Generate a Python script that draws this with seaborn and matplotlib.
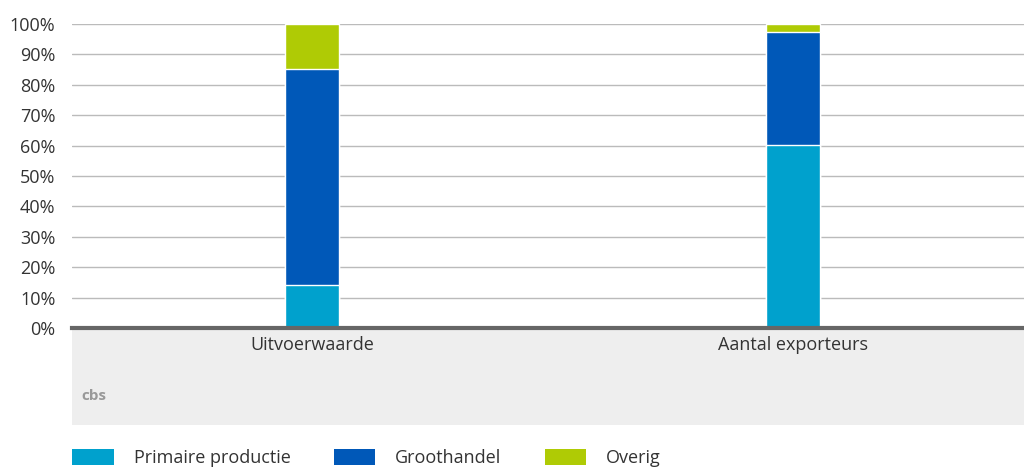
import pandas as pd
import matplotlib.pyplot as plt
import seaborn as sns
from matplotlib.patches import Rectangle, Patch
from matplotlib.ticker import PercentFormatter

categories = ["Uitvoerwaarde", "Aantal exporteurs"]
series = ["Primaire productie", "Groothandel", "Overig"]
primaire = [14.0, 60.3]
groothandel = [71.3, 37.2]
overig = [14.7, 2.5]
colors = ["#00a1cd", "#0058b8", "#afcb05"]

df = pd.DataFrame({"categorie": categories,
                   "Primaire productie": primaire,
                   "Groothandel": groothandel,
                   "Overig": overig})
# cumulative heights for the stacked bars
cum = df[series].cumsum(axis=1)

sns.set_style("white")
plt.rcParams["font.family"] = ["Open Sans", "DejaVu Sans"]

fig = plt.figure(figsize=(10.24, 4.69), dpi=100)

# grey panel under the axis
fig.patches.append(Rectangle((72 / 1024, (469 - 425) / 469), 952 / 1024, 97 / 469,
                             transform=fig.transFigure, facecolor="#eeeeee",
                             edgecolor="none", zorder=-5))

ax = fig.add_axes([72 / 1024, (469 - 328) / 469, 952 / 1024, 304 / 469])

for s, c in reversed(list(zip(series, colors))):
    sns.barplot(x=df["categorie"], y=cum[s], color=c, width=0.112, saturation=1,
                ax=ax, edgecolor="white", linewidth=1, zorder=3)

ax.set_xlim(-0.5, 1.48)
ax.set_ylim(0, 100)
ax.set_yticks(range(0, 101, 10))
ax.yaxis.set_major_formatter(PercentFormatter(decimals=0))
ax.grid(axis="y", color="#bbbbbb", linewidth=1)
ax.set_axisbelow(True)
for sp in ["top", "right", "left"]:
    ax.spines[sp].set_visible(False)
ax.spines["bottom"].set_color("#666666")
ax.spines["bottom"].set_linewidth(3)
ax.spines["bottom"].set_zorder(5)
ax.tick_params(axis="both", length=0, labelsize=13, colors="#333333")
ax.tick_params(axis="y", pad=12)
ax.tick_params(axis="x", pad=6)
ax.set_xlabel("")
ax.set_ylabel("")
ax.patch.set_alpha(0)

# small cbs mark in the grey panel
fig.text(94 / 1024, 1 - 396 / 469, "cbs", fontsize=11, color="#999999",
         ha="center", va="center", fontweight="bold")

handles = [Patch(facecolor=c, edgecolor="none") for c in colors]
fig.legend(handles, series, loc="center left",
           bbox_to_anchor=(56 / 1024, 1 - 458 / 469), ncol=3, frameon=False,
           fontsize=13, handlelength=2.3, handleheight=1.0,
           handletextpad=1.1, columnspacing=2.4, labelcolor="#333333")

fig.savefig("out.png", dpi=100)
